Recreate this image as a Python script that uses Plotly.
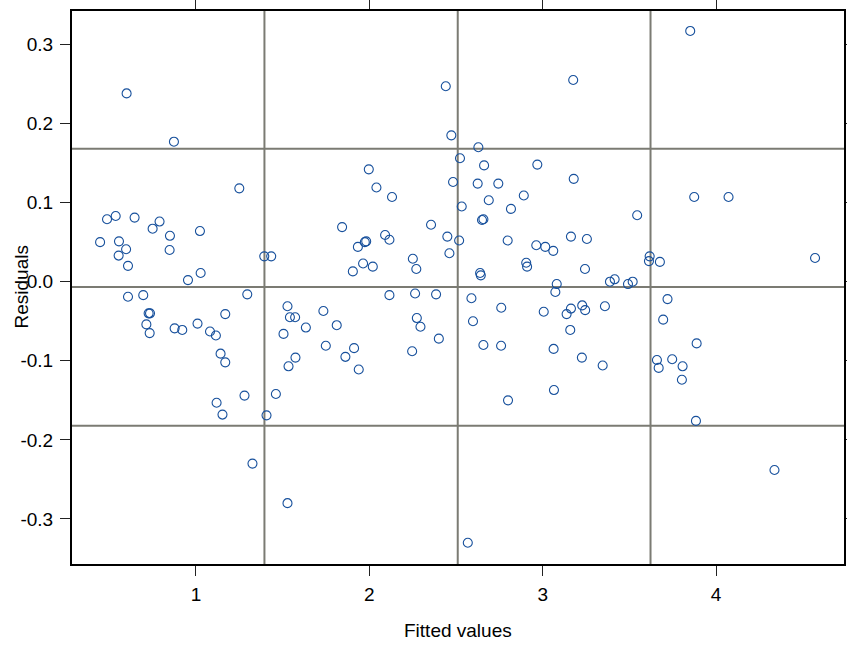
import plotly.graph_objects as go

fitted = [
    0.600, 0.873, 1.250, 0.487, 0.537, 0.646, 0.790, 0.750, 1.023, 0.850,
    0.447, 0.556, 0.597, 0.554, 0.848, 0.608, 1.027, 0.954, 1.394, 1.434,
    0.608, 0.696, 1.296, 0.727, 0.735, 1.169, 0.714, 0.733, 0.877, 0.921,
    1.009, 1.081, 1.115, 1.142, 1.169, 1.280, 1.119, 1.153, 1.407, 1.461,
    1.528, 1.542, 1.572, 1.505, 1.634, 1.735, 1.812, 1.749, 1.574, 1.534,
    1.326, 1.528, 2.441, 3.176, 2.473, 2.629, 1.997, 2.523, 2.662, 2.969,
    2.483, 2.625, 2.744, 3.179, 2.041, 2.131, 2.891, 2.689, 2.817, 2.533,
    2.650, 2.658, 1.843, 2.356, 2.091, 2.116, 1.974, 1.982, 1.934, 2.450,
    2.518, 2.798, 2.963, 3.015, 3.061, 3.163, 3.255, 2.251, 2.271, 2.462,
    1.964, 2.020, 1.905, 2.639, 2.643, 2.905, 2.910, 3.244, 3.081, 3.073,
    3.388, 2.116, 2.264, 2.385, 2.589, 1.912, 1.862, 1.939, 2.274, 2.295,
    2.401, 2.247, 2.598, 2.761, 2.658, 2.760, 2.800, 3.006, 3.138, 3.163,
    3.228, 3.245, 3.359, 3.159, 3.063, 3.226, 3.346, 3.065, 2.568, 3.851,
    3.874, 4.072, 3.545, 3.617, 3.613, 3.676, 4.571, 3.415, 3.492, 3.519,
    3.720, 3.695, 3.888, 3.659, 3.669, 3.747, 3.807, 3.803, 3.884, 4.337,
]

residuals = [
    0.238, 0.177, 0.118, 0.079, 0.083, 0.081, 0.076, 0.067, 0.064, 0.058,
    0.050, 0.051, 0.041, 0.033, 0.040, 0.020, 0.011, 0.002, 0.032, 0.032,
    -0.019, -0.017, -0.016, -0.040, -0.040, -0.041, -0.054, -0.065, -0.059, -0.061,
    -0.053, -0.063, -0.068, -0.091, -0.102, -0.144, -0.153, -0.168, -0.169, -0.142,
    -0.031, -0.045, -0.045, -0.066, -0.058, -0.037, -0.055, -0.081, -0.096, -0.107,
    -0.230, -0.280, 0.247, 0.255, 0.185, 0.170, 0.142, 0.156, 0.147, 0.148,
    0.126, 0.124, 0.124, 0.130, 0.119, 0.107, 0.109, 0.103, 0.092, 0.095,
    0.078, 0.079, 0.069, 0.072, 0.059, 0.053, 0.050, 0.051, 0.044, 0.057,
    0.052, 0.052, 0.046, 0.044, 0.039, 0.057, 0.054, 0.029, 0.016, 0.036,
    0.023, 0.019, 0.013, 0.011, 0.008, 0.024, 0.019, 0.016, -0.003, -0.013,
    0.000, -0.017, -0.015, -0.016, -0.021, -0.084, -0.095, -0.111, -0.046, -0.057,
    -0.072, -0.088, -0.050, -0.033, -0.080, -0.081, -0.150, -0.038, -0.041, -0.034,
    -0.030, -0.036, -0.031, -0.061, -0.085, -0.096, -0.106, -0.137, -0.330, 0.317,
    0.107, 0.107, 0.084, 0.032, 0.026, 0.025, 0.030, 0.003, -0.003, 0.000,
    -0.022, -0.048, -0.078, -0.099, -0.109, -0.098, -0.107, -0.124, -0.176, -0.238,
]

grid_x = [1.395, 2.510, 3.622]
grid_y = [0.168, -0.0067, -0.182]

x_ticks = [1, 2, 3, 4]
x_ticktext = ["1", "2", "3", "4"]
y_ticks = [-0.3, -0.2, -0.1, 0.0, 0.1, 0.2, 0.3]
y_ticktext = ["-0.3", "-0.2", "-0.1", "0.0", "0.1", "0.2", "0.3"]

x_range = [0.285, 4.738]
y_range = [-0.3569, 0.3422]

FONT = "Liberation Sans, Arial, sans-serif"
GRID_COLOR = "#7b7b73"

fig = go.Figure()
fig.add_trace(go.Scatter(
    x=fitted, y=residuals, mode="markers",
    marker=dict(symbol="circle-open", size=9, color="#17509c",
                line=dict(width=1.1, color="#17509c")),
    showlegend=False, hoverinfo="x+y",
))

shapes = []
for gx in grid_x:
    shapes.append(dict(type="line", xref="x", yref="paper", x0=gx, x1=gx, y0=0, y1=1,
                       line=dict(color=GRID_COLOR, width=2), layer="below"))
for gy in grid_y:
    shapes.append(dict(type="line", xref="paper", yref="y", x0=0, x1=1, y0=gy, y1=gy,
                       line=dict(color=GRID_COLOR, width=2), layer="below"))

axis_common = dict(
    showgrid=False, zeroline=False, showline=True, linecolor="black", linewidth=2,
    mirror="ticks", ticks="outside", ticklen=10, tickwidth=1, tickcolor="#222",
    automargin=False,
    tickfont=dict(family=FONT, size=19, color="black"),
)

fig.update_layout(
    width=847, height=645,
    margin=dict(l=72, r=3, t=11, b=81, autoexpand=False),
    paper_bgcolor="white", plot_bgcolor="white",
    font=dict(family=FONT, size=19, color="black"),
    shapes=shapes,
    xaxis=dict(range=x_range, tickvals=x_ticks, ticktext=x_ticktext,
               ticklabelstandoff=2, **axis_common),
    yaxis=dict(range=y_range, tickvals=y_ticks, ticktext=y_ticktext,
               ticklabelstandoff=3, **axis_common),
    annotations=[
        dict(text="Fitted values", xref="paper", yref="paper", x=0.5, y=0,
             yshift=-54, yanchor="top", showarrow=False,
             font=dict(family=FONT, size=19, color="black")),
        dict(text="Residuals", xref="paper", yref="paper", x=0, y=0.5,
             xshift=-51, xanchor="center", textangle=-90, showarrow=False,
             font=dict(family=FONT, size=19, color="black")),
    ],
)

fig.write_html("out.html")
